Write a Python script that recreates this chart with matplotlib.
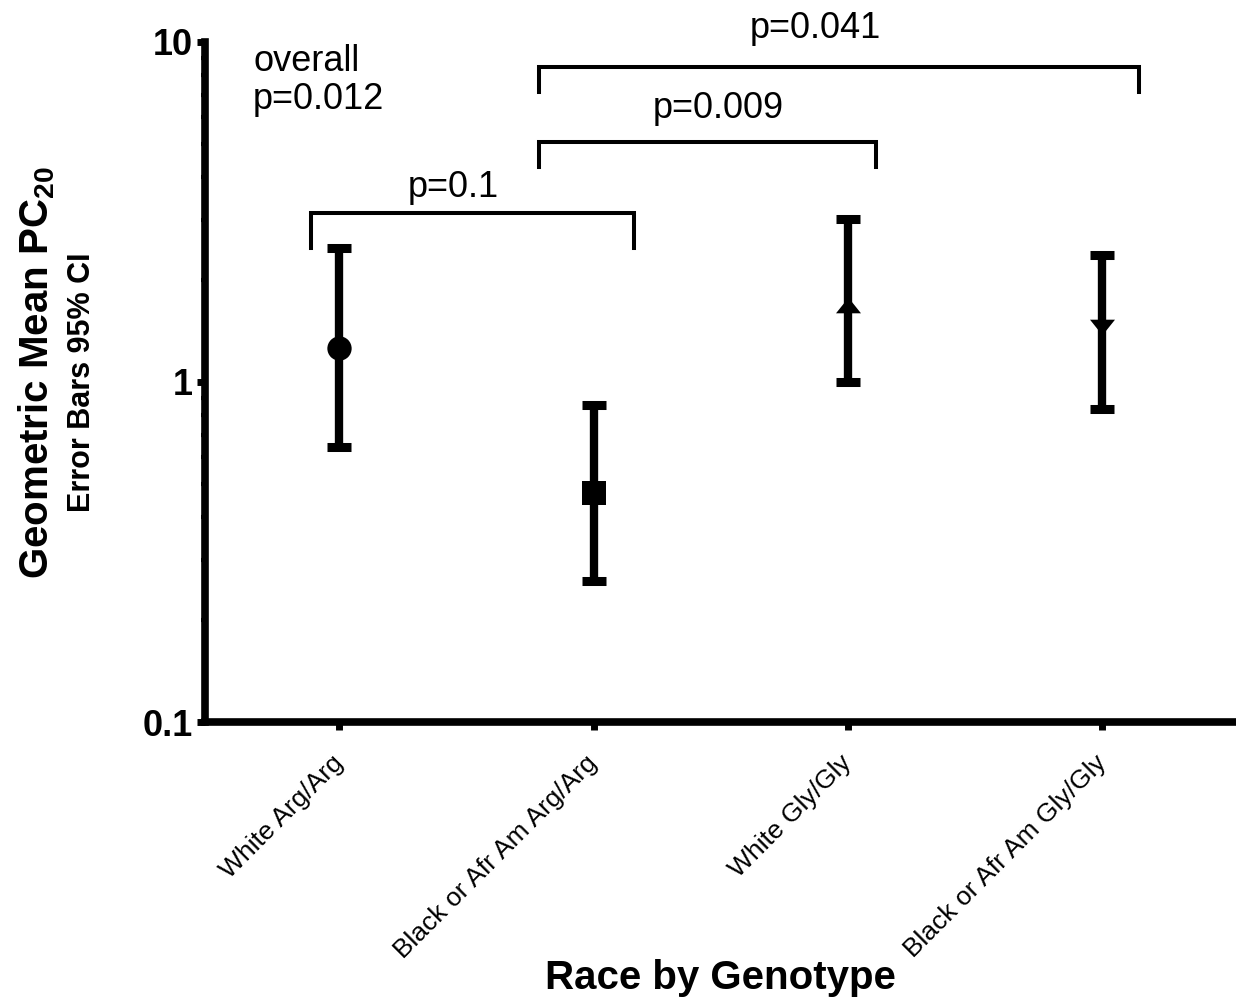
import numpy as np
import matplotlib
matplotlib.use("Agg")
import matplotlib.pyplot as plt
from matplotlib.ticker import LogLocator, FixedLocator, NullFormatter

plt.rcParams['font.family'] = ['Liberation Sans', 'DejaVu Sans']
plt.rcParams['mathtext.fontset'] = 'custom'
plt.rcParams['mathtext.rm'] = 'Liberation Sans'
plt.rcParams['mathtext.bf'] = 'Liberation Sans:bold'

# donnees (moyenne geometrique + IC 95%)
groupes = ["White Arg/Arg", "Black or Afr Am Arg/Arg", "White Gly/Gly", "Black or Afr Am Gly/Gly"]
moyenne = [1.26, 0.472, 1.68, 1.45]
ic_bas = [0.645, 0.26, 1.0, 0.83]
ic_haut = [2.48, 0.855, 3.01, 2.36]

# comparaisons : (x gauche, x droite, y haut, y bout, texte, x texte, y texte)
comparaisons = [
    (-0.11, 1.159, 3.14, 2.47, "p=0.1", 0.45, 3.49),
    (0.786, 2.11, 5.08, 4.28, "p=0.009", 1.49, 5.96),
    (0.786, 3.143, 8.43, 7.11, "p=0.041", 1.87, 10.24),
]

# triangles un peu aplatis comme dans l'original
tri_haut = [(-1, -0.625), (1, -0.625), (0, 0.625), (-1, -0.625)]
tri_bas = [(-1, 0.625), (1, 0.625), (0, -0.625), (-1, 0.625)]
marqueurs = [("o", 17.5), ("s", 17), (tri_haut, 18), (tri_bas, 18)]

fig = plt.figure(figsize=(12.36, 10.06), dpi=100)
ax = fig.add_axes([0.1659, 0.2823, 0.8341, 0.676])

x = np.arange(len(groupes))
for i in range(len(groupes)):
    err = [[moyenne[i] - ic_bas[i]], [ic_haut[i] - moyenne[i]]]
    ax.errorbar(x[i], moyenne[i], yerr=err, fmt="none", ecolor="black",
                elinewidth=6, capsize=8.3, capthick=6.5, zorder=2)
    m, s = marqueurs[i]
    ax.plot(x[i], moyenne[i], marker=m, markersize=s, color="black",
            markeredgewidth=0, linestyle="none", zorder=3)

for x1, x2, yh, yb, txt, xt, yt in comparaisons:
    ax.plot([x1, x1, x2, x2], [yb, yh, yh, yb], color="black", lw=2.9,
            solid_joinstyle="miter", clip_on=False)
    ax.text(xt, yt, txt, ha="center", va="baseline", fontsize=26, clip_on=False)

ax.text(0.0466, 0.997, "overall\np=0.012", transform=ax.transAxes,
        ha="left", va="top", fontsize=26, linespacing=1.1)

ax.set_yscale("log")
ax.set_ylim(0.1, 10)
ax.set_xlim(-0.527, 3.525)
ax.yaxis.set_major_locator(FixedLocator([0.1, 1, 10]))
ax.set_yticklabels(["0.1", "1", "10"], fontsize=26, fontweight="bold")
ax.yaxis.set_minor_locator(LogLocator(base=10, subs=np.arange(2, 10)))
ax.yaxis.set_minor_formatter(NullFormatter())

ax.set_xticks(x)
ax.set_xticklabels(groupes, fontsize=19, rotation=45, ha="right", va="center",
                   rotation_mode="anchor")

for sp in ["top", "right"]:
    ax.spines[sp].set_visible(False)
for sp in ["left", "bottom"]:
    ax.spines[sp].set_linewidth(5.5)
ax.tick_params(axis="both", which="major", length=6, width=5, pad=3)
ax.tick_params(axis="x", which="major", pad=21)
ax.tick_params(axis="y", which="minor", length=3, width=3)

fig.text(0.03, 0.630, r"Geometric Mean PC$_{\mathbf{20}}$", rotation=90,
         ha="center", va="center", fontsize=29, fontweight="bold")
fig.text(0.066, 0.620, "Error Bars 95% CI", rotation=90,
         ha="center", va="center", fontsize=22, fontweight="bold")
fig.text(0.5829, 0.028, "Race by Genotype", ha="center", va="center",
         fontsize=29, fontweight="bold")

fig.savefig("out.png", dpi=100)
